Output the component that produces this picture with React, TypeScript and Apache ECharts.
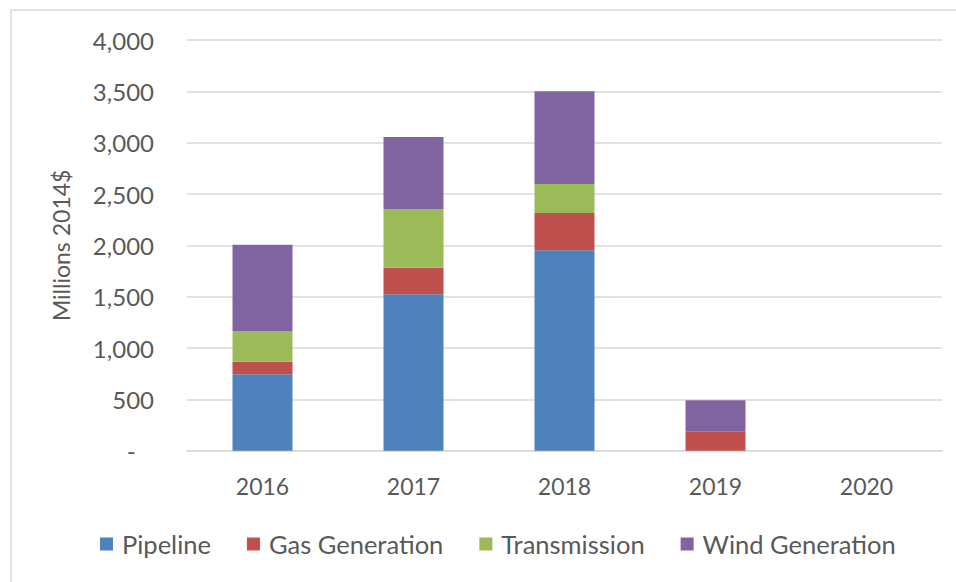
import React, { useEffect, useRef } from "react";
import * as echarts from "echarts";

const years = ["2016", "2017", "2018", "2019", "2020"];
const pipeline = [745, 1523, 1952, 0, 0];
const gasGeneration = [122, 259, 363, 185, 0];
const transmission = [299, 572, 283, 0, 0];
const windGeneration = [840, 701, 902, 306, 0];
const yTicks = [0, 500, 1000, 1500, 2000, 2500, 3000, 3500, 4000];

const FONT = "Lato";
const TXT = "#595959";

export default function App() {
  const ref = useRef<HTMLDivElement>(null);
  useEffect(() => {
    if (!ref.current) return;
    const chart = echarts.init(ref.current, undefined, { renderer: "svg" });
    const mk = (name: string, data: number[], color: string) => ({
      name,
      type: "bar",
      stack: "total",
      data,
      barWidth: 60,
      itemStyle: { color },
      emphasis: { disabled: true },
    });
    chart.setOption({
      animation: false,
      backgroundColor: "#ffffff",
      textStyle: { fontFamily: FONT },
      graphic: [
        {
          type: "rect",
          shape: { x: 11, y: 10, width: 960, height: 600 },
          style: { fill: "none", stroke: "#d9d9d9", lineWidth: 1.5 },
          silent: true,
          z: -10,
        },
      ],
      grid: { left: 187, right: 14, top: 40, bottom: 131.3, containLabel: false },
      legend: {
        left: 95,
        top: 526,
        itemWidth: 13,
        itemHeight: 13,
        itemGap: 36,
        icon: "rect",
        textStyle: { fontFamily: FONT, fontSize: 25.5, color: TXT, padding: [0, 0, 0, 4] },
        data: ["Pipeline", "Gas Generation", "Transmission", "Wind Generation"],
      },
      xAxis: {
        type: "category",
        data: years,
        axisLine: { lineStyle: { color: "#d9d9d9", width: 1.5 } },
        axisTick: { show: false },
        axisLabel: { color: TXT, fontFamily: FONT, fontSize: 23, margin: 24 },
      },
      yAxis: {
        type: "value",
        min: yTicks[0],
        max: yTicks[yTicks.length - 1],
        interval: 500,
        name: "Millions 2014$",
        nameLocation: "middle",
        nameGap: 115,
        nameRotate: 90,
        nameTextStyle: { color: TXT, fontFamily: FONT, fontSize: 23 },
        axisLine: { show: false },
        axisTick: { show: false },
        splitLine: { lineStyle: { color: "#d9d9d9", width: 1.5 } },
        axisLabel: {
          color: TXT,
          fontFamily: FONT,
          fontSize: 24,
          margin: 33,
          formatter: (v: number) => (v === 0 ? "-   " : v.toLocaleString("en-US")),
        },
      },
      series: [
        mk("Pipeline", pipeline, "#4F81BD"),
        mk("Gas Generation", gasGeneration, "#C0504D"),
        mk("Transmission", transmission, "#9BBB59"),
        mk("Wind Generation", windGeneration, "#8064A2"),
      ],
    });
    return () => chart.dispose();
  }, []);
  return <div ref={ref} style={{ width: 956, height: 582, position: "absolute", left: 0, top: 0 }} />;
}
